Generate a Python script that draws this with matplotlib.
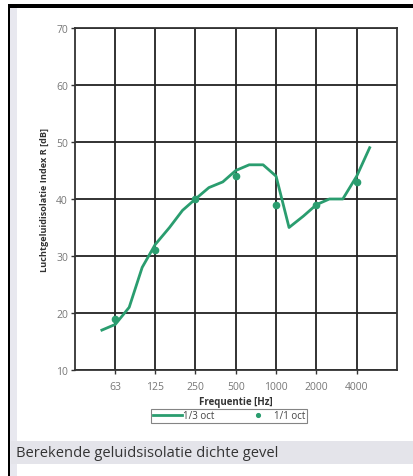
import matplotlib
matplotlib.use("Agg")
import matplotlib.pyplot as plt
from matplotlib.patches import Rectangle
import numpy as np

# Data
third_oct_freq = [50, 63, 80, 100, 125, 160, 200, 250, 315, 400, 500, 630, 800,
                  1000, 1250, 1600, 2000, 2500, 3150, 4000, 5000]
third_oct_R = [17, 18, 21, 28, 32, 35, 38, 40, 42, 43, 45, 46, 46,
               44, 35, 37, 39, 40, 40, 44, 49]
oct_freq = [63, 125, 250, 500, 1000, 2000, 4000]
oct_R = [19, 31, 40, 44, 39, 39, 43]
tick_labels = ["63", "125", "250", "500", "1000", "2000", "4000"]
yticks = [10, 20, 30, 40, 50, 60, 70]

W, H = 414, 477
fig = plt.figure(figsize=(W / 100, H / 100), dpi=100)
fig.patch.set_facecolor("white")

def fx(px):
    return px / W

def fy(py):
    return 1 - py / H

# frame decorations
fig.add_artist(Rectangle((fx(10), fy(477)), fx(7), fy(8) - fy(477), transform=fig.transFigure,
                         facecolor="#e8e8ef", edgecolor="none", zorder=0))
fig.add_artist(Rectangle((fx(8), fy(477)), fx(2.5), fy(5) - fy(477), transform=fig.transFigure,
                         facecolor="black", edgecolor="none", zorder=1))
fig.add_artist(Rectangle((fx(8), fy(8.5)), 1 - fx(8), fy(5) - fy(8.5), transform=fig.transFigure,
                         facecolor="black", edgecolor="none", zorder=1))
# caption bar
fig.add_artist(Rectangle((fx(10.5), fy(465)), 1 - fx(10.5), fy(442) - fy(465), transform=fig.transFigure,
                         facecolor="#e4e4ea", edgecolor="none", zorder=1))
fig.text(fx(16), fy(453.5), "Berekende geluidsisolatie dichte gevel", fontsize=10.6,
         family="Open Sans", color="#333333", va="center", ha="left")

ax = fig.add_axes([fx(75), fy(371), fx(397) - fx(75), fy(29) - fy(371)])
ax.set_xscale("log", base=2)
ax.set_xlim(31.5, 8000)
ax.set_ylim(10, 70)
green = "#2a9d6f"
ax.plot(third_oct_freq, third_oct_R, color=green, lw=2, label="1/3 oct", zorder=3)
ax.plot(oct_freq, oct_R, linestyle="none", marker="o", ms=4.5, color=green,
        label="1/1 oct", zorder=4)

ax.set_xticks(oct_freq)
ax.set_xticklabels(tick_labels)
ax.xaxis.set_minor_locator(matplotlib.ticker.NullLocator())
ax.set_yticks(yticks)
ax.grid(True, color="#222222", lw=1.3)
ax.set_axisbelow(True)
for s in ax.spines.values():
    s.set_color("#333333")
    s.set_linewidth(1.3)
ax.tick_params(axis="both", colors="#333333", labelcolor="#777777", labelsize=7.5,
               length=3, width=1, pad=2)
ax.tick_params(axis="x", pad=5)
for lab in ax.get_xticklabels() + ax.get_yticklabels():
    lab.set_family("Open Sans")

ax.set_xlabel("Frequentie [Hz]", fontsize=7, fontweight="bold", family="Open Sans",
              color="#333333", labelpad=3)
ax.set_ylabel("Luchtgeluidisolatie Index R [dB]", fontsize=6.6, fontweight="bold",
              family="Open Sans", color="#333333", labelpad=5)

leg = ax.legend(loc="center", bbox_to_anchor=(fx(229), fy(417)),
                bbox_transform=fig.transFigure, ncol=2, frameon=True, fancybox=False,
                edgecolor="#666666", handlelength=3, handletextpad=0.1,
                columnspacing=3, borderpad=0.15, borderaxespad=0, markerscale=0.6,
                prop={"family": "Open Sans", "size": 7})
leg.get_frame().set_linewidth(0.8)
for t in leg.get_texts():
    t.set_color("#444444")

fig.savefig("out.png", dpi=100)
